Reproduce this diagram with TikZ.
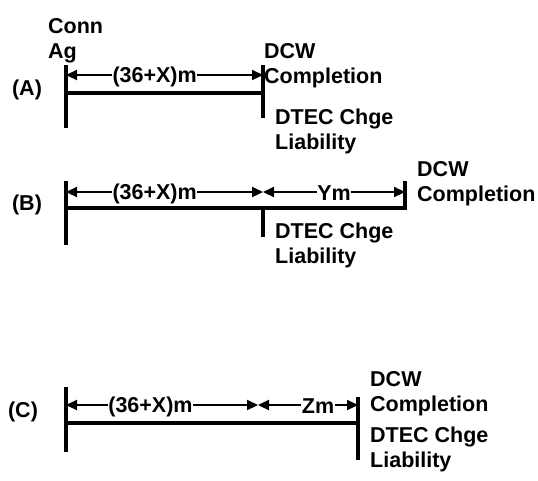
\documentclass[tikz,border=0pt]{standalone}
\usepackage{fontspec}
\setmainfont{Liberation Sans}
\usetikzlibrary{arrows.meta}
\tikzset{
    tick/.style={line width=3.2pt},
    bar/.style={line width=3.2pt},
    dim/.style={line width=2.2pt,{Triangle[length=11pt,width=10pt]}-{Triangle[length=11pt,width=10pt]}},
    lbl/.style={fill=white,inner sep=0.5pt,yshift=-1.5pt,font=\bfseries\fontsize{21.5}{25}\selectfont},
    txt/.style={align=left,inner sep=0pt,anchor=west,font=\bfseries\fontsize{21.5}{25}\selectfont},
}

\begin{document}
\begin{tikzpicture}[x=1pt,y=-1pt]
    \useasboundingbox (0,0) rectangle (538,480);
    % (A)
    \coordinate (a0) at (66,75);
    \coordinate (a1) at (263,75);
    \draw[tick] (66,65) -- (66,128);
    \draw[tick] (263,65) -- (263,118);
    \draw[bar] (66,93) -- (263,93);
    \draw[dim] (a0) -- node[lbl,pos=.45]{(36+X)m} (a1);
    \node[txt] (connA) at (48,41) {Conn\\Ag};
    \node[txt,anchor=center] (labA) at (27,90) {(A)};
    \node[txt] (dcwA) at (264,66) {DCW\\Completion};
    \node[txt] (dtecA) at (275,131) {DTEC Chge\\Liability};
    % (B)
    \coordinate (b0) at (66,192);
    \coordinate (b1) at (263,192);
    \coordinate (b2) at (405,192);
    \draw[tick] (66,181) -- (66,245);
    \draw[tick] (263,208) -- (263,237);
    \draw[tick] (405,181) -- (405,210);
    \draw[bar] (66,208) -- (405,208);
    \draw[dim] (b0) -- node[lbl,pos=.45]{(36+X)m} (b1);
    \draw[dim] (b1) -- node[lbl]{Ym} (b2);
    \node[txt,anchor=center] (labB) at (27,205) {(B)};
    \node[txt] (dcwB) at (417,184) {DCW\\Completion};
    \node[txt] (dtecB) at (275,245) {DTEC Chge\\Liability};
    % (C)
    \coordinate (c0) at (66,405);
    \coordinate (c1) at (258,405);
    \coordinate (c2) at (358,405);
    \draw[tick] (66,387) -- (66,452);
    \draw[tick] (358,397) -- (358,460);
    \draw[bar] (66,423) -- (358,423);
    \draw[dim] (c0) -- node[lbl,pos=.44]{(36+X)m} (c1);
    \draw[dim] (c1) -- node[lbl,pos=.6]{Zm} (c2);
    \node[txt,anchor=center] (labC) at (23,412) {(C)};
    \node[txt] (dcwC) at (370,394) {DCW\\Completion};
    \node[txt] (dtecC) at (370,449) {DTEC Chge\\Liability};
\end{tikzpicture}
\end{document}
